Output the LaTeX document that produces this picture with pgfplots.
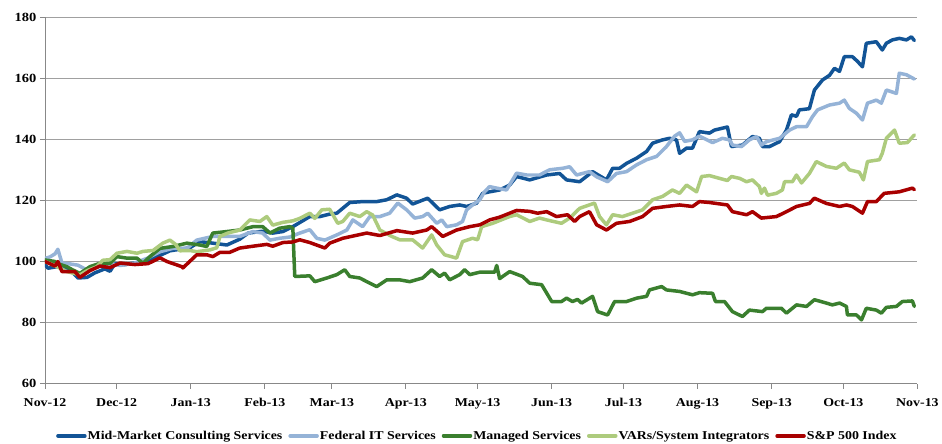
\documentclass[border=0pt]{standalone}
\usepackage{fontspec}
\setmainfont{Liberation Serif}[FakeStretch=1.16]
\usepackage{pgfplots}
\pgfplotsset{compat=1.18}
\definecolor{cMid}{RGB}{18,84,150}
\definecolor{cFed}{RGB}{149,179,215}
\definecolor{cMan}{RGB}{58,127,46}
\definecolor{cVar}{RGB}{173,203,125}
\definecolor{cSP}{RGB}{168,0,0}
\definecolor{cGrid}{RGB}{160,160,160}
\definecolor{cAx}{RGB}{136,136,136}
\newcommand{\lbl}{\bfseries\fontsize{12bp}{14bp}\selectfont}
\begin{document}
\begin{tikzpicture}
\begin{axis}[
  name=ax,
  scale only axis, width=873bp, height=367bp,
  xmin=0, xmax=365, ymin=60, ymax=180,
  axis x line*=bottom, axis y line*=left,
  axis line style={cAx, line width=0.9bp, -},
  ytick={60,80,...,180},
  xtick={0,30,61,92,120,151,181,212,242,273,304,334,365},
  xticklabels={Nov-12,Dec-12,Jan-13,Feb-13,Mar-13,Apr-13,May-13,Jun-13,Jul-13,Aug-13,Sep-13,Oct-13,Nov-13},
  tick align=outside, major tick length=5bp,
  tick style={cAx, line width=0.9bp},
  ymajorgrids, grid style={cGrid, line width=0.9bp},
  /pgf/number format/assume math mode=true,
  ticklabel style={font=\lbl},
  yticklabel style={font=\bfseries\fontsize{12.5bp}{14bp}\selectfont},
  xticklabel style={yshift=-6bp},
  legend columns=5,
  legend style={draw=none, fill=none, font=\lbl, at={(0.495,-0.142)}, anchor=center,
    /tikz/every even column/.append style={column sep=5bp},
    nodes={inner sep=1bp}},
  legend image code/.code={\draw[#1, line width=3.5bp] (0bp,0bp) -- (27bp,0bp);},
  every axis plot/.append style={line width=3.5bp, line join=round, line cap=round, mark=none},
]
\addplot[cMid] coordinates {
(0,99) (1.3,97.8) (4.2,98.2) (6.3,98.5) (8.4,97.5) (10.5,97.3) (13.8,94.6) (17.6,94.8) (20.9,96.3) (25.1,97.6) (27.2,96.8) (29.3,99.3) (33.4,99.0) (37.6,99.5) (43.9,100.5) (48.1,102) (52.3,103.5) (56.4,104) (60.6,104.5) (64.8,106.5) (70.2,106) (76.1,105.4) (81.5,107.3) (85.0,109.3) (91.1,109.9) (95.3,109.3) (99.5,109.8) (103.7,111.4) (110.8,114.7) (115,114.7) (119.1,115.5) (122.1,115.8) (127.5,119.3) (132.9,119.6) (138.8,119.6) (143,120.2) (147.2,121.8) (151.3,120.7) (153.8,118.8) (160.1,120.7) (165.1,116.9) (169.3,118) (173.5,118.5) (176.4,118) (180.6,119.1) (183.1,122.3) (186,122.8) (190.2,123.4) (194.4,125) (197.3,127.8) (202.8,126.7) (209.9,128.3) (215.3,128.8) (218.2,126.7) (223.7,126.1) (229.1,129.4) (234.9,126.7) (237.5,130.5) (240.4,130.5) (243.3,132.1) (247.5,133.8) (251.7,136) (254.2,138.7) (258.4,139.8) (261.3,140.3) (264.2,139.8) (265.5,135.4) (268.4,137.1) (270.9,137.1) (273.8,142.5) (278,142) (280.1,143) (285.5,144) (287.2,137.6) (291.8,138.1) (296,140.9) (298.9,140.3) (300.2,137.6) (303.1,137.6) (307.3,139.2) (310.2,143) (312.3,148) (314.4,147.5) (315.6,149.6) (319.8,150) (321.9,156.1) (325.3,159.4) (328.2,160.9) (330.3,163.2) (332.4,162.2) (334.4,167) (337.8,167) (339.9,165.5) (342,163.7) (343.6,171.4) (347.8,171.9) (350.3,169.2) (352,171.4) (354.5,172.5) (357.4,173) (360.4,172.5) (362.5,173.5) (363.7,172.3)
};
\addlegendentry{Mid-Market Consulting Services}
\addplot[cFed] coordinates {
(0,101) (2.1,101.5) (4.2,102.5) (5.4,104) (7.1,99.5) (10.5,99.2) (13.8,98.8) (17.6,97.2) (23,98.7) (27.2,99.3) (31.4,98.7) (36.8,99.3) (42.6,101) (48.1,103.2) (53.5,104.3) (59.4,104.3) (63.5,107) (70.2,108.2) (76.1,108.2) (81.5,108.2) (87,109.8) (91.1,109.3) (94.1,107) (98.2,107.6) (102.4,108) (106.6,109.3) (110.8,110.4) (113.7,107.6) (117.1,107) (122.1,108.7) (126.3,110.3) (128.8,113.6) (132.9,111.4) (135.9,114.7) (140.1,114.7) (144.2,115.8) (147.6,119.1) (151.3,116.9) (154.7,114.2) (158,114.7) (160.1,115.8) (163.9,112.5) (166,113.6) (168.1,111.4) (172.2,112) (174.7,113.1) (176.4,116.9) (178.9,118.5) (181.9,120.2) (183.9,122.8) (186,124.5) (189,124) (193.1,123.4) (197.3,128.9) (201.5,128.3) (206.9,128.3) (211.1,130) (216.6,130.5) (219.5,131) (222.4,128.3) (227.8,129.4) (230.8,127.7) (235.4,126.1) (239.1,128.8) (243.3,129.4) (247.5,131.6) (251.7,133.3) (255.9,134.4) (260,137.6) (263.4,141) (265.5,142.1) (267.6,139.3) (270.9,139.8) (273.8,141) (279.3,138.9) (283.4,140.3) (286.4,139.8) (287.6,138.1) (291.4,137.6) (294.7,139.8) (297.7,140.9) (299.7,138.1) (301.8,139.2) (307.3,140.3) (311.5,143) (314.4,144.1) (318.6,144.1) (321.1,147.4) (323.2,149.6) (328.2,151.2) (332.4,151.8) (334.4,152.8) (336.5,150.1) (339.5,148.5) (342,146.3) (344.1,151.8) (347.8,152.8) (349.9,151.8) (352,156.1) (356.2,155) (357.4,161.6) (360.4,161.1) (363.7,159.7)
};
\addlegendentry{Federal IT Services}
\addplot[cMan] coordinates {
(0,100.5) (4.2,100) (5,99.4) (9.2,98.3) (11.7,97.2) (14.6,96.1) (18.8,98.3) (23,99.4) (27.2,99.4) (30.1,101.6) (34.3,101.1) (38.5,101.1) (41,99.4) (43.9,101.6) (48.1,104.3) (53.5,104.9) (59.4,106) (64.8,105.4) (67.7,104.9) (70.2,109.3) (76.1,109.8) (81.5,110.3) (87,111.4) (91.1,111.4) (94.1,109.3) (98.2,110.9) (102.4,111.4) (103.7,110.9) (104.5,95.1) (110.8,95.3) (112.9,93.4) (117.9,94.6) (122.1,95.7) (125.4,97.3) (127.5,95.1) (131.7,94.6) (135.9,92.9) (138.8,91.8) (143,94) (148.4,94) (152.6,93.4) (158,94.6) (161.8,97.3) (165.1,95.1) (167.2,96.2) (169.3,94) (173.5,95.7) (175.6,97.3) (177.7,95.7) (181.9,96.5) (188.1,96.5) (189,98.7) (190.2,94.4) (194.4,96.7) (199.8,95.1) (202.8,92.9) (207.8,92.4) (212,86.9) (216.1,86.9) (218.2,88) (220.7,86.9) (222.8,87.6) (224.5,86.4) (229.1,88.6) (231.2,83.6) (235.4,82.5) (238.3,86.9) (243.3,86.9) (247.5,88) (251.7,88.6) (252.9,90.7) (258,91.8) (260,90.7) (265.5,90.2) (270.9,89.1) (273.8,89.8) (279.3,89.6) (280.5,86.9) (284.3,86.9) (287.6,83.6) (291.8,82) (294.7,84.1) (300.2,83.6) (301.8,84.7) (308.1,84.7) (310.2,83.1) (314.4,85.8) (318.6,85.3) (321.9,87.5) (326.9,86.4) (329.4,85.8) (332.4,86.4) (335.3,85.3) (335.7,82.5) (339.5,82.5) (341.6,80.9) (343.6,84.7) (347.8,84.1) (349.9,83.1) (352,85) (356.2,85.3) (358.7,86.9) (362.9,87.1) (363.7,85.3)
};
\addlegendentry{Managed Services}
\addplot[cVar] coordinates {
(0,100) (5,98.3) (9.2,96.7) (14.6,95.6) (17.6,97) (21.7,98.3) (24.2,100.4) (27.2,100.6) (30.1,102.7) (34.3,103.3) (38.5,102.7) (41,103.3) (45.2,103.6) (49.3,106) (52.3,107) (54.8,105.5) (56.4,103.5) (60.6,103.6) (63.5,103.2) (69,103.8) (71.9,104.5) (73.2,108.2) (76.5,109.3) (81.5,110.3) (85.7,113.6) (89.9,113.1) (92.8,114.7) (95.3,111.9) (99.5,112.8) (103.7,113.3) (106.6,114.1) (110.8,115.8) (112.9,114.1) (115.8,116.9) (119.1,117.1) (122.5,112.5) (124.6,113.1) (127.5,115.8) (131.7,114.7) (134.6,116.3) (137.1,115.2) (140.1,110.3) (145.1,108.2) (148.4,107.1) (153.8,107.1) (158,104.4) (161.8,108.7) (163.9,105.4) (167.2,102.2) (172.2,101.1) (174.7,106.5) (178.9,107.6) (181,107.1) (182.7,111.4) (187.3,112.5) (194.4,114.7) (197.3,115.3) (202.8,113.1) (206.9,114.2) (209.9,113.6) (216.1,112.5) (219.5,114.2) (223.7,117.4) (229.9,119.1) (232,114.7) (234.9,112) (237.5,115.3) (241.6,114.7) (245.8,115.8) (250,116.9) (254.2,120.2) (258.4,121.3) (262.5,123.4) (265.5,122.3) (268.4,125) (272.6,122.8) (274.7,127.8) (278,128.1) (282.2,127.2) (285.5,126.5) (287.2,127.8) (290.6,127.2) (293.5,126.1) (296,126.7) (298.9,124.5) (299.7,122.3) (301,124) (302.3,121.7) (306,122.3) (308.5,123.4) (309.4,126.1) (312.7,126.1) (314.4,128.3) (316.5,125.7) (319.8,128.8) (322.7,132.7) (326.9,131.1) (331.1,130.5) (334.4,132.2) (336.5,130) (340.7,129.2) (342.4,126.7) (344.1,132.7) (349.1,133.3) (350.3,135.4) (352,140.3) (355.4,143) (357.4,138.7) (360.8,138.9) (363.7,141.4)
};
\addlegendentry{VARs/System Integrators}
\addplot[cSP] coordinates {
(0,100) (4.2,98.5) (5.4,100) (7.1,96.7) (12.5,96.7) (14.6,94.8) (18.8,97) (23,98.5) (27.2,98) (31.4,99.5) (37.6,99) (43.1,99.3) (48.1,101.2) (51,100) (57.3,98.3) (57.7,97.9) (63.5,102.2) (67.7,102.2) (70.2,101.6) (73.2,103) (77.3,103) (81.5,104.4) (87,105) (92.8,105.6) (95.3,105) (99.5,106.2) (103.7,106.4) (106.6,107.1) (110.8,106.2) (117.1,104.4) (119.1,106) (124.6,107.6) (134.6,109.3) (140.1,108.5) (147.2,110.1) (153.8,109.3) (159.7,110.3) (161.8,111.4) (166.4,108.2) (172.2,110.3) (177.7,111.4) (181.9,112) (186,113.6) (190.2,114.5) (197.3,116.7) (202.8,116.4) (206.1,115.8) (209.9,116.3) (214,114.7) (218.6,115.3) (221.6,113.1) (223.7,114.7) (227.8,116.3) (230.8,112) (234.9,110.3) (239.1,112.5) (244.6,113.1) (250,114.7) (254.2,117.4) (260,118) (265.5,118.5) (270.9,118) (273.8,119.6) (278,119.3) (285.5,118.5) (287.6,116.3) (293.5,115.3) (296,116.3) (299.7,114.2) (306,114.7) (310.2,116.3) (314.4,118) (319.8,119) (321.9,120.7) (326.9,119) (332.4,118) (335.3,118.5) (337.8,118) (342,115.8) (344.1,119.6) (347.8,119.6) (351.1,122.3) (357.4,122.8) (362.9,124) (363.7,123.5)
};
\addlegendentry{S\&P 500 Index}
\end{axis}
\path ([xshift=-45bp,yshift=-57bp]ax.south west) rectangle ([xshift=24bp,yshift=17bp]ax.north east);
\end{tikzpicture}
\end{document}
